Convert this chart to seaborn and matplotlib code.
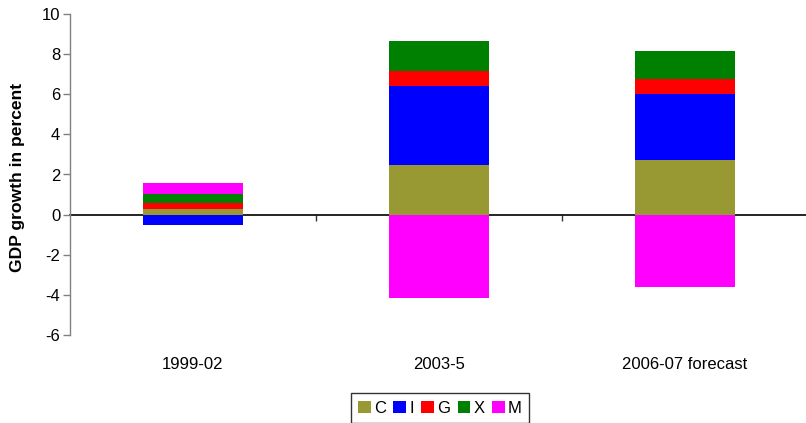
import matplotlib
matplotlib.use("Agg")
import matplotlib.pyplot as plt
import seaborn as sns
import numpy as np
from matplotlib.patches import Patch

# Contributions to GDP growth (percentage points) by demand component
periods = ["1999-02", "2003-5", "2006-07 forecast"]
components = ["C", "I", "G", "X", "M"]
C = [0.28, 2.45, 2.74]
I = [-0.50, 3.97, 3.27]
G = [0.28, 0.75, 0.75]
X = [0.48, 1.48, 1.42]
M = [0.53, -4.18, -3.60]
colors = ["#999933", "#0000FF", "#FF0000", "#008000", "#FF00FF"]
yticks = [-6, -4, -2, 0, 2, 4, 6, 8, 10]

sns.set_theme(style="white")
plt.rcParams["font.family"] = ["Liberation Sans", "DejaVu Sans"]
plt.rcParams["text.color"] = "black"
plt.rcParams["axes.labelcolor"] = "black"
plt.rcParams["xtick.color"] = "black"
plt.rcParams["ytick.color"] = "black"

fig = plt.figure(figsize=(8.06, 4.23), dpi=100)
ax = fig.add_axes([70 / 806, 1 - 335 / 423, 738 / 806, 321 / 423])

pos_base = np.zeros(len(periods))
neg_base = np.zeros(len(periods))
for name, vals, col in zip(components, [C, I, G, X, M], colors):
    vals = np.asarray(vals, dtype=float)
    bottoms = np.where(vals >= 0, pos_base, neg_base)
    sns.barplot(x=periods, y=vals, bottom=bottoms, color=col, saturation=1,
                width=0.41, linewidth=0, ax=ax)
    pos_base = pos_base + np.clip(vals, 0, None)
    neg_base = neg_base + np.clip(vals, None, 0)

ax.set_xlim(-0.5, 2.5)
ax.set_ylim(-6, 10)
ax.set_yticks(yticks)
ax.set_yticklabels([str(t) for t in yticks], fontsize=12)
ax.tick_params(axis="y", direction="out", length=5, width=1, color="#808080",
               labelcolor="black", pad=2, left=True)
ax.tick_params(axis="x", length=0, pad=16, labelsize=12, labelcolor="black")
ax.set_xticks(range(len(periods)))
ax.set_xticklabels(periods)

for side in ["top", "right", "bottom"]:
    ax.spines[side].set_visible(False)
ax.spines["left"].set_color("#808080")
ax.spines["left"].set_linewidth(1)

# Category axis drawn along the zero line with ticks between categories
zero_frac = (0 - (-6)) / (10 - (-6))
cat_axis = ax.secondary_xaxis(zero_frac)
cat_axis.set_xticks([0.5, 1.5])
cat_axis.set_xticklabels([])
cat_axis.tick_params(direction="out", length=4, width=1, color="#333333")
cat_axis.spines["bottom"].set_color("black")
cat_axis.spines["bottom"].set_linewidth(1.2)

ax.set_ylabel("GDP growth in percent", fontsize=12.6, fontweight="bold",
              color="black")
ax.yaxis.set_label_coords(-0.061, 0.49)
ax.set_xlabel("")

handles = [Patch(facecolor=c, edgecolor="none") for c in colors]
leg = fig.legend(handles, components, loc="upper center",
                 bbox_to_anchor=(440 / 806, 1 - 393 / 423), ncol=5,
                 frameon=True, fancybox=False, fontsize=12,
                 handlelength=0.75, handleheight=0.75, handletextpad=0.2,
                 columnspacing=0.45, borderpad=0.45, borderaxespad=0)
leg.get_frame().set_edgecolor("black")
leg.get_frame().set_linewidth(1)
for t in leg.get_texts():
    t.set_color("black")

fig.savefig("out.png", dpi=100)
